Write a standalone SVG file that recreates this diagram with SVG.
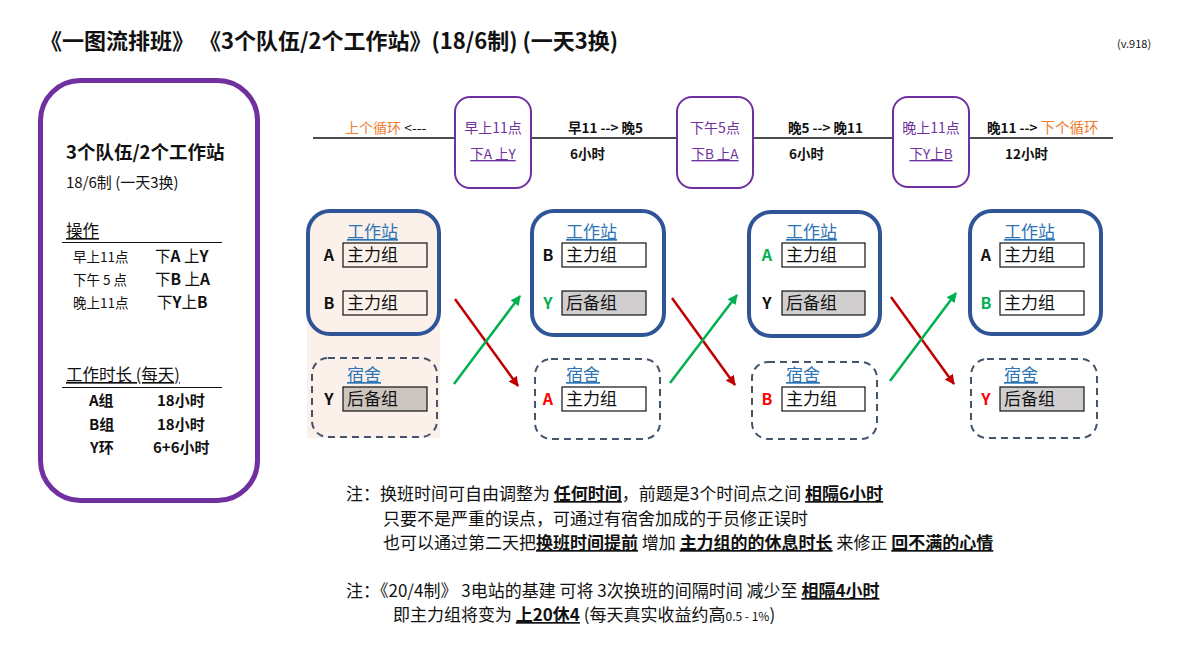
<svg xmlns="http://www.w3.org/2000/svg" width="1192" height="651" viewBox="0 0 1192 651">
<defs>
<marker id="arrR" viewBox="0 0 10 10" refX="9" refY="5" markerWidth="10" markerHeight="10" markerUnits="userSpaceOnUse" orient="auto"><path d="M0,0 L10,5 L0,10 z" fill="#C00000"/></marker>
<marker id="arrG" viewBox="0 0 10 10" refX="9" refY="5" markerWidth="10" markerHeight="10" markerUnits="userSpaceOnUse" orient="auto"><path d="M0,0 L10,5 L0,10 z" fill="#00B050"/></marker>
<style>
text{font-family:"Noto Sans CJK SC","Noto Sans",sans-serif;fill:#111}
.b{font-weight:bold}
.u{text-decoration:underline}
.pur{fill:#7030A0}
.org{fill:#ED7D31}
.tbox{fill:#fff;stroke:#7030A0;stroke-width:2}
.work{fill:#fff;stroke:#2F5597;stroke-width:4}
.dorm{fill:#fff;stroke:#44546A;stroke-width:2;stroke-dasharray:7 5}
.cell{fill:#fff;stroke:#111;stroke-width:1.2}
.gray{fill:#D0CECE;stroke:#111;stroke-width:1.2}
.hd{font-size:17px;fill:#2E75B6;text-decoration:underline}
.lb{font-size:16px;font-weight:bold;text-anchor:middle}
.ct{font-size:17px}
.red{fill:#FF0000}
.grn{fill:#00B050}
.note{font-size:17px}
</style>
</defs>
<rect width="1192" height="651" fill="#fff"/>

<g id="title">
<text x="40" y="49" class="b" font-size="22">《一图流排班》 《3个队伍/2个工作站》(18/6制) (一天3换)</text>
<text x="1117" y="48" font-size="11">(v.918)</text>
</g>

<g id="legend">
<rect x="40.5" y="80.5" width="217" height="420" rx="40" fill="#fff" stroke="#7030A0" stroke-width="5"/>
<text x="66" y="159" class="b" font-size="18.5">3个队伍/2个工作站</text>
<text x="66" y="188" font-size="15">18/6制 (一天3换)</text>
<text x="66" y="237" font-size="16.5" class="u">操作</text>
<line x1="62" y1="242.5" x2="222" y2="242.5" stroke="#111" stroke-width="1.2"/>
<text x="73" y="262" font-size="13.5">早上11点</text>
<text x="155" y="262" font-size="15.5">下<tspan class="b">A</tspan> 上<tspan class="b">Y</tspan></text>
<text x="73" y="285" font-size="13.5">下午 5 点</text>
<text x="155" y="285" font-size="15.5">下<tspan class="b">B</tspan> 上<tspan class="b">A</tspan></text>
<text x="73" y="308" font-size="13.5">晚上11点</text>
<text x="157" y="308" font-size="15.5">下<tspan class="b">Y</tspan>上<tspan class="b">B</tspan></text>
<text x="66" y="381" font-size="16.5" class="u">工作时长 (每天)</text>
<line x1="62" y1="387.5" x2="222" y2="387.5" stroke="#111" stroke-width="1.2"/>
<text x="89" y="406" class="b" font-size="15">A组</text>
<text x="157" y="406" class="b" font-size="15">18小时</text>
<text x="89" y="430" class="b" font-size="15">B组</text>
<text x="157" y="430" class="b" font-size="15">18小时</text>
<text x="90" y="453" class="b" font-size="15">Y环</text>
<text x="153" y="453" class="b" font-size="15">6+6小时</text>
</g>

<g id="timeline">
<line x1="313" y1="138" x2="1113" y2="138" stroke="#111" stroke-width="1.3"/>
<text x="345" y="133" font-size="14"><tspan class="org">上个循环</tspan> &lt;---</text>
<text x="568" y="133" font-size="13.5" class="b">早11 --&gt; 晚5</text>
<text x="570" y="159" font-size="13.5" class="b">6小时</text>
<text x="788" y="133" font-size="13.5" class="b">晚5 --&gt; 晚11</text>
<text x="789" y="159" font-size="13.5" class="b">6小时</text>
<text x="987" y="133" font-size="13.5"><tspan class="b">晚11 --&gt;</tspan> <tspan class="org" font-size="14.5">下个循环</tspan></text>
<text x="1005" y="159" font-size="13.5" class="b">12小时</text>
</g>
<g id="t1">
<rect x="455" y="97" width="76" height="91" rx="15" class="tbox"/>
<text x="493" y="133" font-size="14" class="pur" text-anchor="middle">早上11点</text>
<text x="493" y="159" font-size="13.5" class="pur u" text-anchor="middle">下A 上Y</text>
</g>
<g id="t2">
<rect x="677" y="97" width="76" height="91" rx="15" class="tbox"/>
<text x="715" y="133" font-size="14" class="pur" text-anchor="middle">下午5点</text>
<text x="715" y="159" font-size="13.5" class="pur u" text-anchor="middle">下B 上A</text>
</g>
<g id="t3">
<rect x="893" y="97" width="76" height="90" rx="15" class="tbox"/>
<text x="931" y="133" font-size="14" class="pur" text-anchor="middle">晚上11点</text>
<text x="931" y="159" font-size="13.5" class="pur u" text-anchor="middle">下Y上B</text>
</g>

<g id="col1">
<rect x="307" y="225" width="133" height="213" fill="#FBF1EA"/>
<rect x="308" y="211" width="131" height="123" rx="22" class="work" style="fill:#FBF1EA"/>
<text x="347" y="238" class="hd">工作站</text>
<text x="329" y="261" class="lb">A</text>
<rect x="343" y="243" width="84" height="24" fill="none" stroke="#111" stroke-width="1.2"/>
<text x="347" y="261" class="ct">主力组</text>
<text x="329" y="309" class="lb">B</text>
<rect x="343" y="291" width="84" height="24" fill="none" stroke="#111" stroke-width="1.2"/>
<text x="347" y="309" class="ct">主力组</text>
<rect x="312" y="358" width="125" height="79" rx="16" class="dorm" style="fill:none"/>
<text x="347" y="381" class="hd">宿舍</text>
<text x="329" y="405" class="lb">Y</text>
<rect x="343" y="387" width="84" height="24" fill="#CDC5C0" stroke="#111" stroke-width="1.2"/>
<text x="347" y="405" class="ct">后备组</text>
</g>

<g id="col2">
<rect x="532" y="211" width="132" height="124" rx="22" class="work"/>
<text x="566" y="238" class="hd">工作站</text>
<text x="548" y="261" class="lb">B</text>
<rect x="562" y="243" width="84" height="24" class="cell"/>
<text x="566" y="261" class="ct">主力组</text>
<text x="548" y="309" class="lb grn">Y</text>
<rect x="562" y="291" width="84" height="24" class="gray"/>
<text x="566" y="309" class="ct">后备组</text>
<rect x="535" y="359" width="125" height="80" rx="16" class="dorm"/>
<text x="566" y="381" class="hd">宿舍</text>
<text x="548" y="405" class="lb red">A</text>
<rect x="562" y="387" width="84" height="24" class="cell"/>
<text x="566" y="405" class="ct">主力组</text>
</g>

<g id="col3">
<rect x="749" y="212" width="131" height="124" rx="22" class="work"/>
<text x="786" y="238" class="hd">工作站</text>
<text x="767" y="261" class="lb grn">A</text>
<rect x="782" y="243" width="83" height="24" class="cell"/>
<text x="786" y="261" class="ct">主力组</text>
<text x="767" y="309" class="lb">Y</text>
<rect x="782" y="291" width="83" height="24" class="gray"/>
<text x="786" y="309" class="ct">后备组</text>
<rect x="752" y="362" width="125" height="77" rx="16" class="dorm"/>
<text x="786" y="381" class="hd">宿舍</text>
<text x="767" y="405" class="lb red">B</text>
<rect x="782" y="387" width="83" height="24" class="cell"/>
<text x="786" y="405" class="ct">主力组</text>
</g>

<g id="col4">
<rect x="970" y="211" width="131" height="123" rx="22" class="work"/>
<text x="1004" y="238" class="hd">工作站</text>
<text x="986" y="261" class="lb">A</text>
<rect x="1000" y="243" width="84" height="24" class="cell"/>
<text x="1004" y="261" class="ct">主力组</text>
<text x="986" y="309" class="lb grn">B</text>
<rect x="1000" y="291" width="84" height="24" class="cell"/>
<text x="1004" y="309" class="ct">主力组</text>
<rect x="971" y="359" width="126" height="79" rx="16" class="dorm"/>
<text x="1004" y="381" class="hd">宿舍</text>
<text x="986" y="405" class="lb red">Y</text>
<rect x="1000" y="387" width="84" height="24" class="gray"/>
<text x="1004" y="405" class="ct">后备组</text>
</g>

<g id="connectors" stroke-width="2.5" fill="none">
<line x1="455" y1="299" x2="518" y2="386" stroke="#C00000" marker-end="url(#arrR)"/>
<line x1="454" y1="384" x2="520" y2="296" stroke="#00B050" marker-end="url(#arrG)"/>
<line x1="672" y1="298" x2="735" y2="385" stroke="#C00000" marker-end="url(#arrR)"/>
<line x1="670" y1="383" x2="737" y2="295" stroke="#00B050" marker-end="url(#arrG)"/>
<line x1="891" y1="297" x2="954" y2="384" stroke="#C00000" marker-end="url(#arrR)"/>
<line x1="890" y1="381" x2="956" y2="293" stroke="#00B050" marker-end="url(#arrG)"/>
</g>

<g id="notes">
<text x="346" y="500" class="note">注：换班时间可自由调整为 <tspan class="b u">任何时间</tspan>，前题是3个时间点之间 <tspan class="b u">相隔6小时</tspan></text>
<text x="383" y="525" class="note">只要不是严重的误点，可通过有宿舍加成的于员修正误时</text>
<text x="383" y="549" class="note">也可以通过第二天把<tspan class="b u">换班时间提前</tspan> 增加 <tspan class="b u">主力组的的休息时长</tspan> 来修正 <tspan class="b u">回不满的心情</tspan></text>
<text x="346" y="597" class="note">注：《20/4制》 3电站的基建 可将 3次换班的间隔时间 减少至 <tspan class="b u">相隔4小时</tspan></text>
<text x="393" y="621" class="note">即主力组将变为 <tspan class="b u">上20休4</tspan> (每天真实收益约高<tspan font-size="12">0.5 - 1%</tspan>)</text>
</g>
</svg>
